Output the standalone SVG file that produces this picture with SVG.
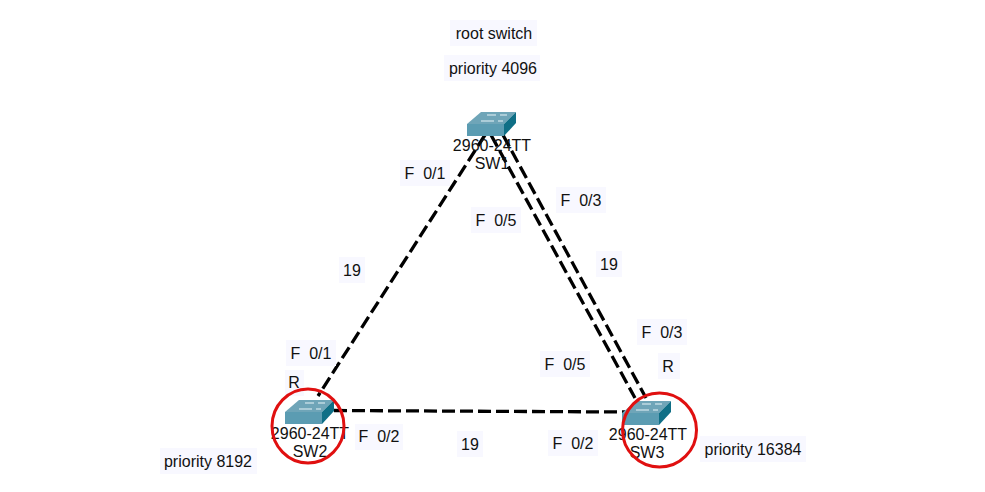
<svg xmlns="http://www.w3.org/2000/svg" width="985" height="492" viewBox="0 0 985 492">
<style>
text{font-family:"Liberation Sans",Arial,sans-serif;font-size:16px;fill:#111;text-anchor:middle}
.bg{fill:#f8f8ff}
.link{fill:none;stroke:#000;stroke-width:3.3;stroke-dasharray:13 5}
.ring{fill:none;stroke:#e01010;stroke-width:3}
</style>
<defs>
<g id="sw">
<path d="M0 12L14 0H49L37 12Z" fill="#6fa5b8"/>
<path d="M0 12H37V24H0Z" fill="#5b9cb2"/>
<path d="M37 12L49 0V11L37 24Z" fill="#0f6f86"/>
<path d="M14 9H27M31 9H36M20 3H29M33 3H40" stroke="#e8f4f8" stroke-width="1" fill="none"/>
</g>
</defs>
<g id="connectors">
<path class="link" d="M485 135L318 396"/>
<path class="link" d="M491 135L635 398"/>
<path class="link" d="M503 135L646 398"/>
<path class="link" d="M334 410.500L625 412"/>
</g>
<g id="labels">
<rect class="bg" x="450" y="20" width="87" height="26"/><text x="494" y="39">root switch</text>
<rect class="bg" x="444" y="55" width="96" height="26"/><text x="493" y="74">priority 4096</text>
<rect class="bg" x="400" y="160" width="50" height="26"/><text x="425" y="179" xml:space="preserve">F  0/1</text>
<rect class="bg" x="471" y="207" width="50" height="26"/><text x="496" y="226" xml:space="preserve">F  0/5</text>
<rect class="bg" x="556" y="187" width="50" height="26"/><text x="581" y="206" xml:space="preserve">F  0/3</text>
<rect class="bg" x="339" y="257" width="26" height="26"/><text x="352" y="276">19</text>
<rect class="bg" x="596" y="251" width="26" height="26"/><text x="609" y="270">19</text>
<rect class="bg" x="637" y="319" width="50" height="26"/><text x="662" y="338" xml:space="preserve">F  0/3</text>
<rect class="bg" x="658" y="353" width="22" height="26"/><text x="668" y="372">R</text>
<rect class="bg" x="286" y="340" width="50" height="26"/><text x="311" y="359" xml:space="preserve">F  0/1</text>
<rect class="bg" x="285" y="370" width="19" height="26"/><text x="294" y="388">R</text>
<rect class="bg" x="540" y="351" width="50" height="26"/><text x="565" y="370" xml:space="preserve">F  0/5</text>
<rect class="bg" x="355" y="424" width="48" height="26"/><text x="379" y="442" xml:space="preserve">F  0/2</text>
<rect class="bg" x="457" y="431" width="26" height="26"/><text x="470" y="450">19</text>
<rect class="bg" x="548" y="430" width="50" height="26"/><text x="573" y="449" xml:space="preserve">F  0/2</text>
<rect class="bg" x="160" y="448" width="97" height="26"/><text x="208" y="467">priority 8192</text>
<rect class="bg" x="700" y="436" width="106" height="26"/><text x="753" y="455">priority 16384</text>
</g>
<g id="SW1"><use href="#sw" x="467" y="112"/><text x="492" y="151">2960-24TT</text><text x="492" y="169">SW1</text></g>
<g id="SW2"><use href="#sw" x="285" y="400"/><text x="310" y="439">2960-24TT</text><text x="310" y="457">SW2</text></g>
<g id="SW3"><use href="#sw" x="622" y="401"/><text x="648" y="440">2960-24TT</text><text x="647" y="458">SW3</text></g>
<ellipse class="ring" cx="308" cy="426" rx="36" ry="37"/>
<ellipse class="ring" cx="659.500" cy="430" rx="37" ry="37"/>
</svg>
